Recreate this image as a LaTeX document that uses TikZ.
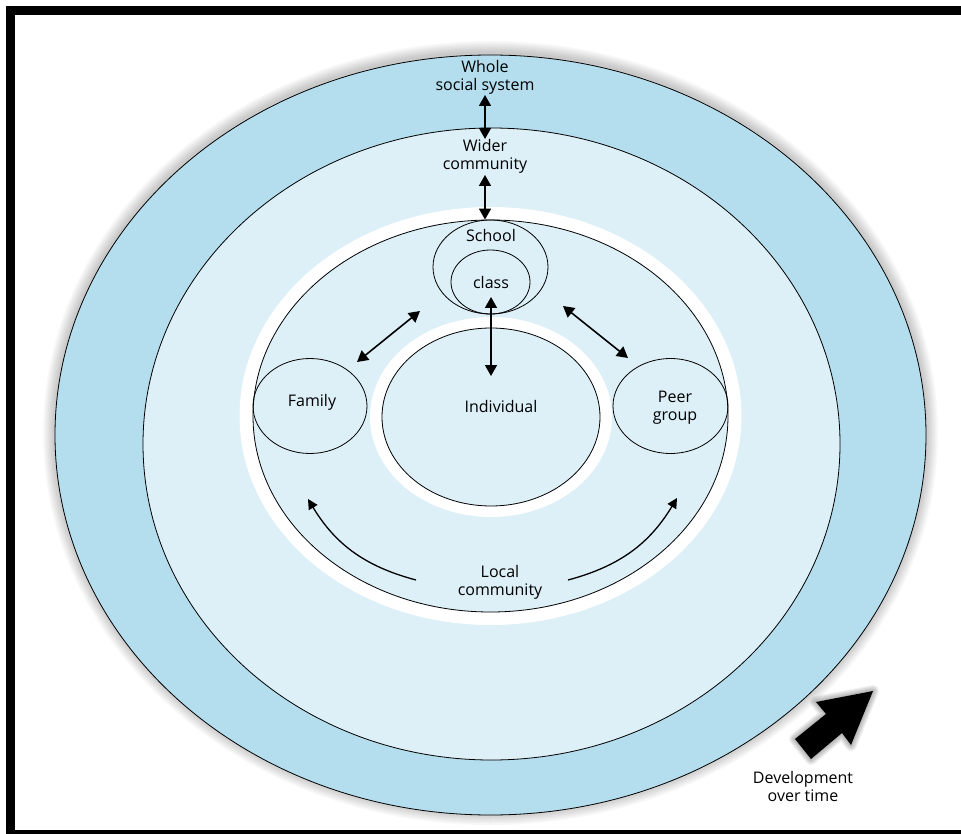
\documentclass[tikz,border=0pt]{standalone}
\usepackage{fontspec}
\setmainfont{Open Sans}
\usetikzlibrary{positioning, arrows.meta, shapes.geometric}
\definecolor{outerblue}{RGB}{180,222,238}
\definecolor{innerblue}{RGB}{221,239,247}
\tikzset{
  ring/.style={ellipse, draw, line width=0.8pt, inner sep=0pt},
  gap/.style={ellipse, fill=white, inner sep=0pt},
  lbl/.style={font=\fontsize{16}{18}\selectfont, align=center, inner sep=1pt},
  link/.style={{Triangle[length=11pt,width=12pt]}-{Triangle[length=11pt,width=12pt]}, line width=1.6pt},
  flow/.style={-{Triangle[length=10pt,width=10pt]}, line width=1.3pt},
}

\begin{document}
\begin{tikzpicture}[x=1pt,y=-1pt,>=Stealth]
  \clip (0,0) rectangle (961,834);
  \fill[white] (0,0) rectangle (961,834);

  % soft shadow round the outer ring
  \foreach \s in {1,...,8}
    \draw[line width=3*\s pt, black, opacity=0.028] (490.5,433) ellipse [x radius=435.5, y radius=380];

  % Rings
  \node[ring, fill=outerblue, minimum width=871pt, minimum height=760pt] (whole) at (490.5,435) {};
  \node[ring, fill=innerblue, minimum width=697pt, minimum height=632pt] (wider) at (491.5,444) {};
  \node[gap, minimum width=502pt, minimum height=418pt] (localgap) at (490.5,416) {};
  \node[ring, fill=innerblue, minimum width=475pt, minimum height=392pt] (local) at (490.5,416) {};
  \node[gap, minimum width=242pt, minimum height=200pt] (indivgap) at (491,417) {};
  \node[ring, fill=innerblue, minimum width=218pt, minimum height=178pt] (indiv) at (491,417) {};

  % Settings inside the local community
  \node[ring, minimum width=115pt, minimum height=94pt, below=0pt of local.north] (school) {};
  \node[ring, minimum width=79pt, minimum height=64pt, above=0pt of school.south] (class) {};
  \node[ring, minimum width=114pt, minimum height=95pt, right=0pt of local.west, yshift=10pt] (family) {};
  \node[ring, minimum width=115pt, minimum height=95pt, left=0pt of local.east, yshift=10pt] (peer) {};

  % Labels
  \node[lbl] (wholetxt) at (485,77) {Whole\\social system};
  \node[lbl] (widertxt) at (485,156.5) {Wider\\community};
  \node[lbl] (schooltxt) at (491,236) {School};
  \node[lbl] (classtxt) at (491,283) {class};
  \node[lbl] (familytxt) at (312,402) {Family};
  \node[lbl] (indivtxt) at (501,406) {Individual};
  \node[lbl] (peertxt) at (675,407.5) {Peer\\group};
  \node[lbl] (localtxt) at (500,582) {Local\\community};
  \node[lbl] (devtxt) at (803,786) {Development\\over time};

  % Arrow ends
  \coordinate (wholelow) at (485,95);
  \coordinate (widertop) at (485,139);
  \coordinate (widerlow) at (485,175);
  \coordinate (localtop) at (widerlow |- local.north);
  \coordinate (classlow) at (491,297);
  \coordinate (indtop) at (491,376);
  \coordinate (famend) at (357,362);
  \coordinate (schoolleft) at (420,311);
  \coordinate (schoolright) at (563,306);
  \coordinate (peerend) at (628,358);
  \coordinate (leftstart) at (416,580);
  \coordinate (leftend) at (308,499);
  \coordinate (rightstart) at (568,580);
  \coordinate (rightend) at (677,498);

  % Arrows
  \draw[link] (wholelow) -- (widertop);
  \draw[link] (widerlow) -- (localtop);
  \draw[link] (classlow) -- (indtop);
  \draw[link] (famend) -- (schoolleft);
  \draw[link] (schoolright) -- (peerend);
  \draw[flow] (leftstart) to[bend left=22] (leftend);
  \draw[flow] (rightstart) to[bend right=22] (rightend);

  % Development over time
  \foreach \s in {1,...,6}
    \draw[line width=2*\s pt, line join=round, black, opacity=0.05]
      (795,739) -- (826,714) -- (816,702) -- (873,691) -- (851,745) -- (842,733) -- (811,759) -- cycle;
  \fill[black] (795,739) -- (826,714) -- (816,702) -- (873,691) -- (851,745) -- (842,733) -- (811,759) -- cycle;

  % Frame
  \draw[line width=9pt] (10.5,10.5) rectangle (970,834.5);
\end{tikzpicture}
\end{document}
